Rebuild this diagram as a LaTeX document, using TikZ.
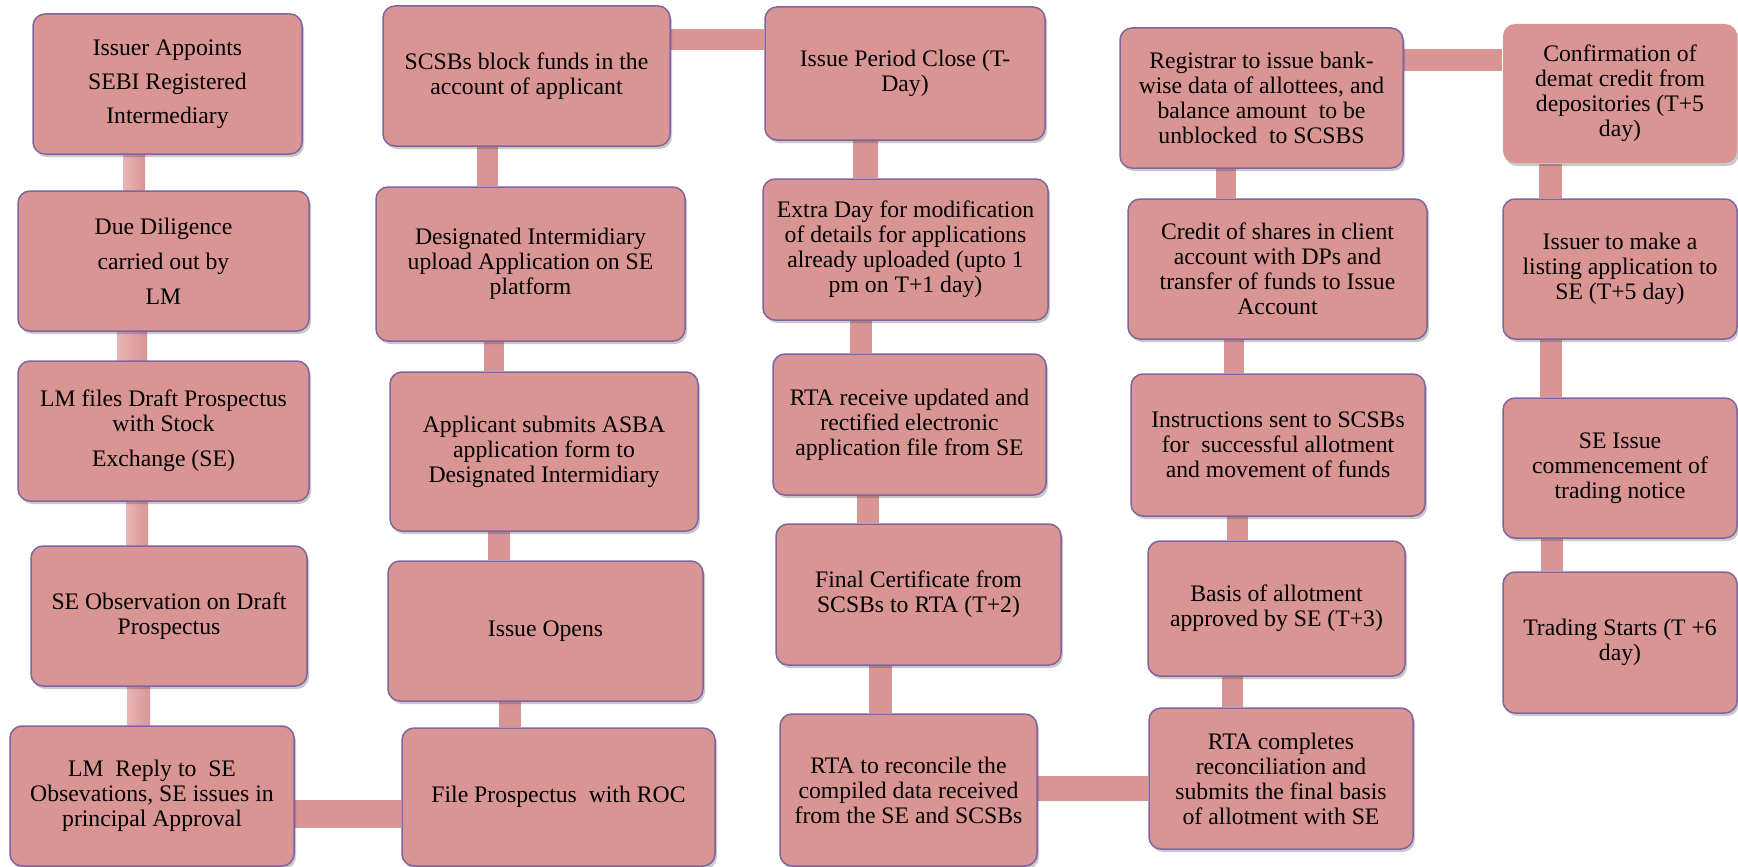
\documentclass[tikz,border=0pt]{standalone}
\usepackage{fontspec}
\setmainfont{Liberation Serif}
\usetikzlibrary{shadows,backgrounds}
\definecolor{boxfill}{HTML}{D99594}
\definecolor{boxline}{HTML}{8064A2}
\definecolor{barlight}{HTML}{FBE6E6}
\definecolor{bardark}{HTML}{E8B4B4}
\begin{document}
\begin{tikzpicture}[x=1pt,y=-1pt,
  box/.style={rectangle, rounded corners=12pt, fill=boxfill, draw=boxline, line width=1.5pt,
    align=center, inner sep=0pt, font=\fontsize{23.7}{25}\selectfont,
    drop shadow={shadow xshift=2pt, shadow yshift=-3pt, opacity=0.3, fill=black!70}},
  sz/.style 2 args={minimum width=#1pt, minimum height=#2pt},
  bar/.style={fill=boxfill},
  cyl/.style={left color=bardark, middle color=barlight, right color=boxfill},
]
\useasboundingbox (0,0) rectangle (1738,867);

% Column 1
\node[box, sz={269}{140}] (a1) at (167.5,84) {Issuer Appoints\\[9pt]SEBI Registered\\[9pt]Intermediary};
\node[box, sz={291}{140}] (a2) at (163.5,261) {Due Diligence\\[10pt]carried out by\\[10pt]LM};
\node[box, sz={291}{140}] (a3) at (163.5,431) {LM files Draft Prospectus\\with Stock\\[10pt]Exchange (SE)};
\node[box, sz={276}{140}] (a4) at (169,616) {SE Observation on Draft\\Prospectus};
\node[box, sz={284}{140}] (a5) at (152,796) {LM\ \ Reply to\ \ SE\\Obsevations, SE issues in\\principal Approval};

% Column 2
\node[box, sz={287}{140}] (b1) at (526.5,76) {SCSBs block funds in the\\account of applicant};
\node[box, sz={309}{154}] (b2) at (530.5,264) {Designated Intermidiary\\upload Application on SE\\platform};
\node[box, sz={308}{159}] (b3) at (544,451.5) {Applicant submits ASBA\\application form to\\Designated Intermidiary};
\node[box, sz={315}{140}] (b4) at (545.5,631) {Issue Opens};
\node[box, sz={313}{138}] (b5) at (558.5,797) {File Prospectus\ \ with ROC};

% Column 3
\node[box, sz={280}{133}] (c1) at (905,73.5) {Issue Period Close (T-\\Day)};
\node[box, sz={285}{141}] (c2) at (905.5,249.5) {Extra Day for modification\\of details for applications\\already uploaded (upto 1\\pm on T+1 day)};
\node[box, sz={273}{141}] (c3) at (909.5,424.5) {RTA receive updated and\\rectified electronic\\application file from SE};
\node[box, sz={285}{141}] (c4) at (918.5,594.5) {Final Certificate from\\SCSBs to RTA (T+2)};
\node[box, sz={257}{152}] (c5) at (908.5,790) {RTA to reconcile the\\compiled data received\\from the SE and SCSBs};

% Column 4
\node[box, sz={283}{140}] (d1) at (1261.5,98) {Registrar to issue bank-\\wise data of allottees, and\\balance amount\ \ to be\\unblocked\ \ to SCSBS};
\node[box, sz={299}{140}] (d2) at (1277.5,269) {Credit of shares in client\\account with DPs and\\transfer of funds to Issue\\Account};
\node[box, sz={294}{142}] (d3) at (1278,445) {Instructions sent to SCSBs\\for\ \ successful allotment\\and movement of funds};
\node[box, sz={257}{135}] (d4) at (1276.5,608.5) {Basis of allotment\\approved by SE (T+3)};
\node[box, sz={264}{141}] (d5) at (1281,778.5) {RTA completes\\reconciliation and\\submits the final basis\\of allotment with SE};

% Column 5
\node[box, draw=none, sz={234}{139}] (e1) at (1620,93.5) {Confirmation of\\demat credit from\\depositories (T+5\\day)};
\node[box, sz={234}{140}] (e2) at (1620,269) {Issuer to make a\\listing application to\\SE (T+5 day)};
\node[box, sz={234}{140}] (e3) at (1620,468) {SE Issue\\commencement of\\trading notice};
\node[box, sz={234}{141}] (e4) at (1620,642.5) {Trading Starts (T +6\\day)};

\begin{pgfonlayer}{background}
% column 1 connectors (cylinder look)
\shade[cyl] (a1.south -| 123,0) rectangle (a2.north -| 145,0);
\shade[cyl] (a2.south -| 117,0) rectangle (a3.north -| 147,0);
\shade[cyl] (a3.south -| 126,0) rectangle (a4.north -| 148,0);
\shade[cyl] (a4.south -| 127,0) rectangle (a5.north -| 150,0);
% column 2
\fill[bar] (b1.south -| 477,0) rectangle (b2.north -| 498,0);
\fill[bar] (b2.south -| 484,0) rectangle (b3.north -| 504,0);
\fill[bar] (b3.south -| 488,0) rectangle (b4.north -| 510,0);
\fill[bar] (b4.south -| 499,0) rectangle (b5.north -| 521,0);
% column 3
\fill[bar] (c1.south -| 853,0) rectangle (c2.north -| 878,0);
\fill[bar] (c2.south -| 850,0) rectangle (c3.north -| 872,0);
\fill[bar] (c3.south -| 857,0) rectangle (c4.north -| 879,0);
\fill[bar] (c4.south -| 869,0) rectangle (c5.north -| 892,0);
% column 4
\fill[bar] (d1.south -| 1216,0) rectangle (d2.north -| 1236,0);
\fill[bar] (d2.south -| 1224,0) rectangle (d3.north -| 1244,0);
\fill[bar] (d3.south -| 1227,0) rectangle (d4.north -| 1248,0);
\fill[bar] (d4.south -| 1222,0) rectangle (d5.north -| 1243,0);
% column 5
\fill[bar] (e1.south -| 1539,0) rectangle (e2.north -| 1562,0);
\fill[bar] (e2.south -| 1540,0) rectangle (e3.north -| 1562,0);
\fill[bar] (e3.south -| 1541,0) rectangle (e4.north -| 1563,0);
% horizontal links
\fill[bar] (a5.east |- 0,800) rectangle (b5.west |- 0,828);
\fill[bar] (b1.east |- 0,29) rectangle (c1.west |- 0,50);
\fill[bar] (c5.east |- 0,776) rectangle (d5.west |- 0,801);
\fill[bar] (d1.east |- 0,49) rectangle (e1.west |- 0,71);
\end{pgfonlayer}
\end{tikzpicture}
\end{document}
